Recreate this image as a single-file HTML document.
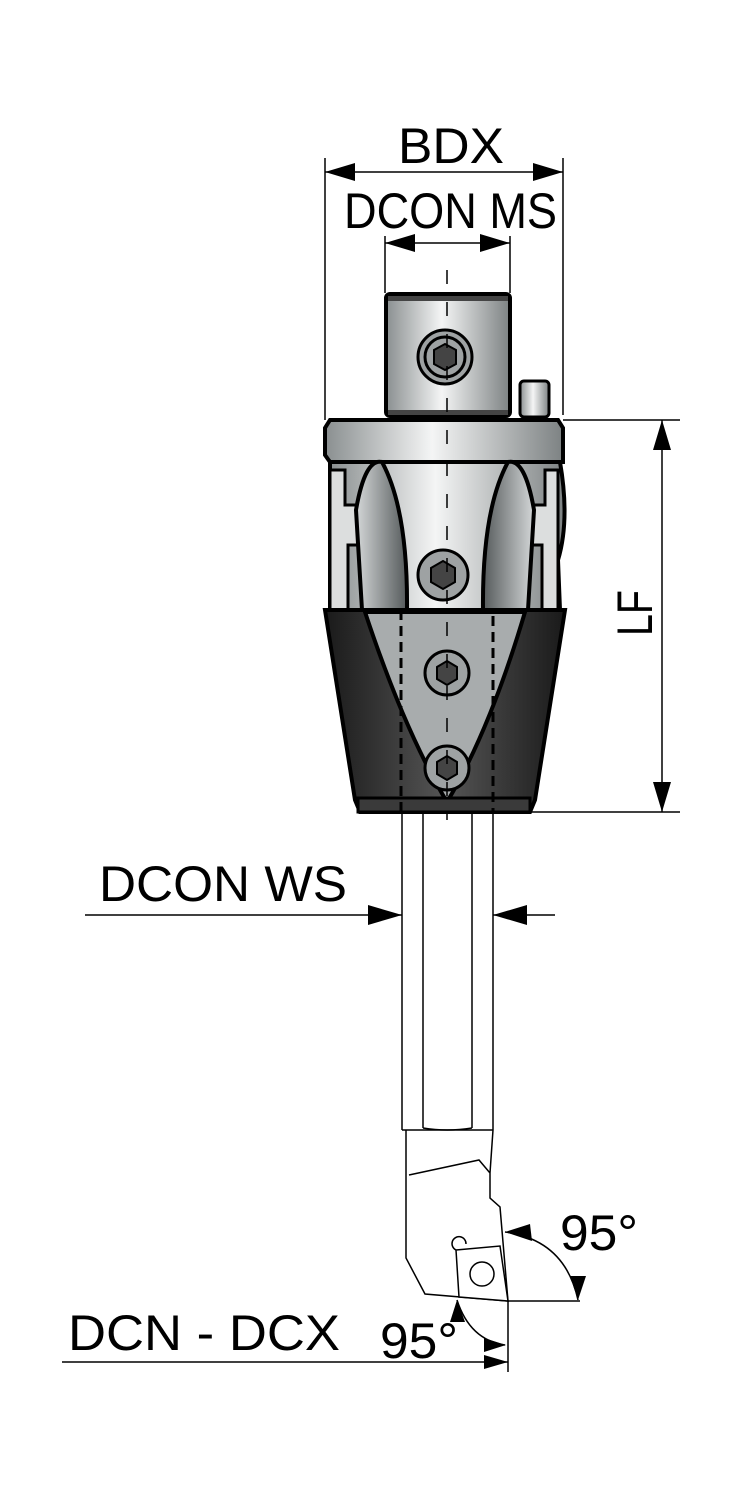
<!DOCTYPE html>
<html><head><style>html,body{margin:0;padding:0;background:#fff}svg{display:block}text{font-family:"Liberation Sans",sans-serif;fill:#000}</style></head>
<body>
<svg width="740" height="1500" viewBox="0 0 740 1500" xmlns="http://www.w3.org/2000/svg">
<defs>
<linearGradient id="mg" x1="0" x2="1" y1="0" y2="0">
<stop offset="0" stop-color="#8a8f90"/><stop offset="0.45" stop-color="#f4f5f5"/><stop offset="1" stop-color="#7d8283"/></linearGradient>
<linearGradient id="dk" x1="0" x2="1"><stop offset="0" stop-color="#1a1a1a"/><stop offset="0.5" stop-color="#555"/><stop offset="1" stop-color="#1a1a1a"/></linearGradient>
<linearGradient id="fl" x1="0" x2="1"><stop offset="0" stop-color="#d4d7d8"/><stop offset="1" stop-color="#555a5b"/></linearGradient>
<linearGradient id="fr" x1="0" x2="1"><stop offset="0" stop-color="#555a5b"/><stop offset="1" stop-color="#d4d7d8"/></linearGradient>
</defs>
<g stroke="#000" fill="none" stroke-width="1.5">
<line x1="325" y1="158" x2="325" y2="420"/><line x1="563" y1="158" x2="563" y2="415"/>
<line x1="325" y1="172" x2="563" y2="172"/>
<line x1="385" y1="236" x2="385" y2="293"/><line x1="510" y1="236" x2="510" y2="293"/>
<line x1="385" y1="243" x2="510" y2="243"/>
<line x1="563" y1="420" x2="680" y2="420"/><line x1="530" y1="812" x2="680" y2="812"/>
<line x1="662" y1="420" x2="662" y2="812"/>
<line x1="85" y1="915" x2="402" y2="915"/><line x1="493" y1="915" x2="555" y2="915"/>
<line x1="508" y1="1301" x2="580" y2="1301"/><line x1="508" y1="1301" x2="508" y2="1372"/>
<line x1="62" y1="1362" x2="508" y2="1362"/>
<path d="M505,1232 Q565,1240 578,1300"/>
<path d="M457,1300 Q470,1340 505,1345"/>
</g>
<g fill="#000">
<polygon points="325,172 355,163 355,181"/><polygon points="563,172 533,163 533,181"/>
<polygon points="385,243 415,234 415,252"/><polygon points="510,243 480,234 480,252"/>
<polygon points="662,420 653,450 671,450"/><polygon points="662,812 653,782 671,782"/>
<polygon points="402,915 368,905 368,925"/><polygon points="493,915 527,905 527,925"/>
<polygon points="505,1232 530,1224 532,1241"/><polygon points="578,1300 570,1276 586,1276"/>
<polygon points="457,1300 450,1322 465,1322"/><polygon points="506,1345 484,1338 484,1352"/>
<polygon points="508,1362 484,1355 484,1369"/>
</g>
<rect x="386" y="294" width="124" height="122" rx="4" fill="url(#mg)" stroke="#000" stroke-width="4"/>
<rect x="388" y="296" width="120" height="5" fill="#444"/>
<rect x="388" y="410" width="120" height="5" fill="#444"/>
<rect x="520" y="381" width="29" height="36" rx="4" fill="url(#mg)" stroke="#000" stroke-width="3"/>
<path d="M330,420 L558,420 L563,428 L563,462 L330,462 L325,455 L325,428 Z" fill="url(#mg)" stroke="#000" stroke-width="4"/>
<path d="M330,462 L560,462 Q570,520 558,560 L560,610 L330,610 Z" fill="url(#mg)" stroke="#000" stroke-width="4"/>
<path d="M330,470 L330,610 L348,610 L348,545 L360,545 L360,505 L345,505 L345,470 Z" fill="#dcdede" stroke="#000" stroke-width="3"/>
<path d="M558,470 L558,610 L542,610 L542,545 L530,545 L530,505 L545,505 L545,470 Z" fill="#dcdede" stroke="#000" stroke-width="3"/>
<path d="M362,610 L356,510 Q365,458 382,462 Q408,510 407,610 Z" fill="url(#fl)" stroke="#000" stroke-width="4"/>
<path d="M528,610 L534,510 Q525,458 508,462 Q482,510 483,610 Z" fill="url(#fr)" stroke="#000" stroke-width="4"/>
<path d="M325,610 L565,610 L535,800 L530,812 L360,812 L355,800 Z" fill="url(#dk)" stroke="#000" stroke-width="4"/>
<path d="M365,612 L525,612 Q490,730 447,802 Q404,730 365,612 Z" fill="#a8acad" stroke="#000" stroke-width="4"/>
<rect x="358" y="798" width="172" height="14" fill="#3a3a3a" stroke="#000" stroke-width="3"/>
<rect x="401" y="612" width="92" height="200" fill="none" stroke="#000" stroke-width="3" stroke-dasharray="10,6"/>
<g stroke="#000" stroke-width="3">
<circle cx="445" cy="357" r="27" fill="#9ea2a3"/><circle cx="445" cy="357" r="20" fill="none"/>
<circle cx="443" cy="575" r="25" fill="#9ea2a3"/>
<circle cx="447" cy="673" r="22" fill="#9ea2a3"/>
<circle cx="447" cy="768" r="22" fill="#9ea2a3"/>
</g>
<g fill="#444" stroke="#000" stroke-width="2">
<polygon points="445,344 456,350 456,364 445,370 434,364 434,350"/>
<polygon points="443,561 455,568 455,582 443,589 431,582 431,568"/>
<polygon points="447,661 457,667 457,679 447,685 437,679 437,667"/>
<polygon points="447,756 457,762 457,774 447,780 437,774 437,762"/>
</g>
<g stroke="#000" stroke-width="1.5" stroke-dasharray="14,18"><line x1="447" y1="270" x2="447" y2="820"/></g>
<g stroke="#000" stroke-width="1.5" fill="none">
<line x1="402" y1="812" x2="402" y2="1130"/><line x1="493" y1="812" x2="493" y2="1130"/>
<line x1="423" y1="812" x2="423" y2="1128"/><line x1="472" y1="812" x2="472" y2="1128"/>
<path d="M423,1128 Q447,1132 472,1128"/>
<line x1="402" y1="1130" x2="493" y2="1130"/>
<path d="M406,1130 L406,1258 L425,1294 L508,1301 L500,1207 L490,1198 L490,1173 L479,1160 L409,1175 M490,1173 L493,1130"/>
<path d="M456,1250 L500,1246 L508,1301 L459,1297 Z" fill="#fff"/>
<circle cx="482" cy="1274" r="12"/>
<path d="M456,1250 A7,7 0 1 1 466,1244"/>
</g>
<text x="398" y="163" font-size="50" textLength="106" lengthAdjust="spacingAndGlyphs">BDX</text>
<text x="344" y="228" font-size="50" textLength="213" lengthAdjust="spacingAndGlyphs">DCON MS</text>
<text transform="translate(652,636) rotate(-90)" font-size="50" textLength="46" lengthAdjust="spacingAndGlyphs">LF</text>
<text x="99" y="901" font-size="50" textLength="248" lengthAdjust="spacingAndGlyphs">DCON WS</text>
<text x="560" y="1250" font-size="50" textLength="78" lengthAdjust="spacingAndGlyphs">95°</text>
<text x="68" y="1350" font-size="50" textLength="272" lengthAdjust="spacingAndGlyphs">DCN - DCX</text>
<text x="380" y="1358" font-size="50" textLength="78" lengthAdjust="spacingAndGlyphs">95°</text>
</svg>
</body></html>
